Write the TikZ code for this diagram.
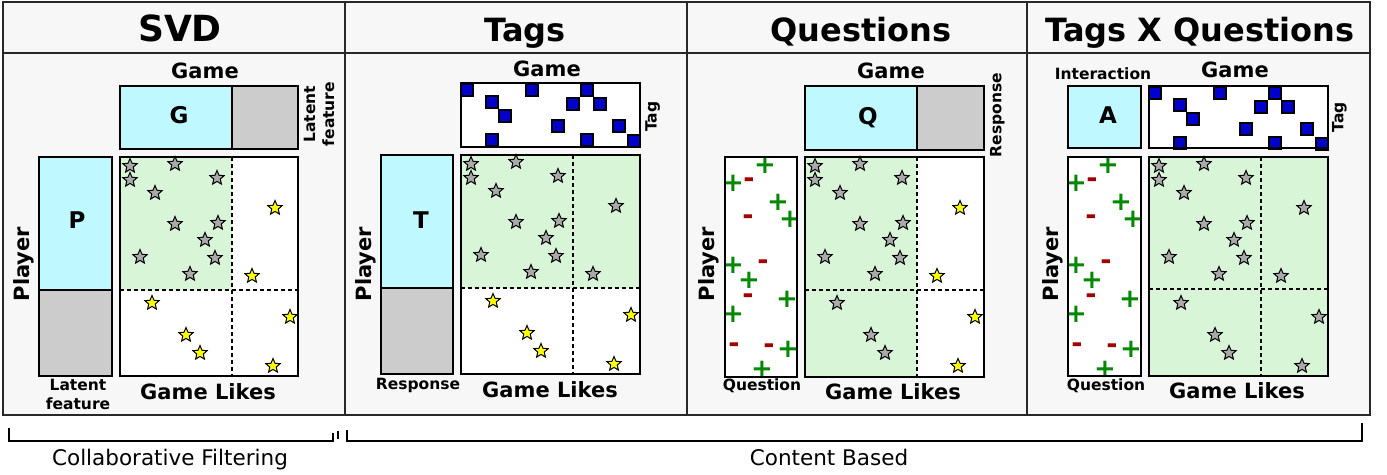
\documentclass[tikz,border=0pt]{standalone}
\usepackage{fontspec}
\setmainfont{DejaVu Sans}
\usetikzlibrary{shapes.geometric}
\definecolor{panelbg}{RGB}{247,247,247}
\definecolor{framegray}{RGB}{40,40,40}
\definecolor{cyanbox}{RGB}{191,248,255}
\definecolor{graybox}{RGB}{204,204,204}
\definecolor{greenbg}{RGB}{216,245,216}
\definecolor{stargray}{RGB}{170,170,170}
\definecolor{staryellow}{RGB}{255,255,0}
\definecolor{tagblue}{RGB}{0,0,204}
\definecolor{plusgreen}{RGB}{0,136,0}
\definecolor{minusred}{RGB}{160,0,0}
\tikzset{
 every node/.style={inner sep=0pt, outer sep=0pt},
 ttl/.style={font=\bfseries\fontsize{32}{32}\selectfont, anchor=base},
 axl/.style={font=\bfseries\fontsize{21}{21}\selectfont, anchor=base},
 sml/.style={font=\bfseries\fontsize{15.5}{19}\selectfont, anchor=base, align=center},
 boxlet/.style={font=\bfseries\fontsize{23}{23}\selectfont, anchor=base},
 boxline/.style={draw=black, line width=2pt},
 dashsep/.style={dash pattern=on 4pt off 3pt, line width=1.4pt},
 starmk/.style={star, star points=5, star point ratio=2.2, minimum size=15pt, draw=black, line width=1pt},
 sq/.style={minimum size=12pt, fill=tagblue, draw=black, line width=1.2pt},
 pl/.style={font=\bfseries\fontsize{26}{26}\selectfont, text=plusgreen},
 mi/.style={font=\bfseries\fontsize{27}{27}\selectfont, text=minusred},
 bot/.style={font=\fontsize{21.5}{21.5}\selectfont, anchor=base},
 brk/.style={line width=1.8pt},
 frm/.style={line width=1.5pt, draw=framegray},
}
\newcommand{\drawstars}[4]{%
 \foreach \sx/\sy [count=\i] in {10/9,55/7,10/23,97/21,35/36,155/51,55/67,98/66,85/83,20/100,95/101,70/117,132/119,32/146,170/160,66/178,80/196,153/209}{%
   \pgfmathtruncatemacro\isg{#4}%
   \ifnum\isg=1 \def\sc{stargray}\else\def\sc{staryellow}\fi
   \node[starmk, fill=\sc] (#3\i) at ({#1+\sx},{#2+\sy}) {};
 }}
\newcommand{\tagsquares}[3]{%
 \foreach \qx/\qy [count=\i] in {6/7,71/7,126/7,31/19,112/21,139/21,44/33,97/43,158/43,31/57,126/57,173/58}{%
   \node[sq] (#3\i) at ({#1+\qx},{#2+\qy}) {};
 }}
\newcommand{\signs}[3]{%
 \foreach \gx/\gy/\gs [count=\i] in {40/8/p,8/26/p,24/26/m,53/45/p,23/63/m,65/62/p,8/108/p,38/108/m,24/123/p,23/142/m,62/142/p,8/157/p,9/191/m,44/192/m,63/192/p,37/212/p}{%
   \if p\gs
     \node[pl] (#3\i) at ({#1+\gx},{#2+\gy}) {+};
   \else
     \node[mi] (#3\i) at ({#1+\gx},{#2+\gy}) {-};
   \fi
 }}
\begin{document}
\begin{tikzpicture}[x=1pt,y=-1pt]
\useasboundingbox (0,0) rectangle (1387,474);
% frame
\fill[panelbg] (3,2) rectangle (1370,415);
\draw[frm] (3,53) -- (1370,53);
\draw[frm] (345,2) -- (345,415);
\draw[frm] (687,2) -- (687,415);
\draw[frm] (1027,2) -- (1027,415);
\draw[frm] (3,2) rectangle (1370,415);
% titles
\node[ttl, font=\bfseries\fontsize{36}{36}\selectfont] (t1) at (180,41.5) {SVD};
\node[ttl] (t2) at (525,41.5) {Tags};
\node[ttl] (t3) at (861,41.5) {Questions};
\node[ttl] (t4) at (1200,41.5) {Tags X Questions};

% ===== Panel 1: SVD =====
\fill[cyanbox] (120,86) rectangle (232,149);
\fill[graybox] (232,86) rectangle (298,149);
\draw[boxline] (120,86) rectangle (298,149);
\draw[boxline] (232,86) -- (232,149);
\node[boxlet] (g1) at (179,123.3) {G};
\fill[cyanbox] (39,157) rectangle (112,290);
\fill[graybox] (39,290) rectangle (112,376);
\draw[boxline] (39,157) rectangle (112,376);
\draw[boxline] (39,290) -- (112,290);
\node[boxlet] (p1) at (77,228.3) {P};
\fill[white] (120,157) rectangle (298,376);
\fill[greenbg] (120,157) rectangle (232,290);
\draw[dashsep] (232,157) -- (232,376);
\draw[dashsep] (120,290) -- (298,290);
\drawstars{120}{157}{sa}{(\sx<112)*(\sy<133)}
\draw[boxline] (120,157) rectangle (298,376);
\node[axl] (game1) at (205,78) {Game};
\node[axl] (likes1) at (208,399) {Game Likes};
\node[axl, rotate=90] (player1) at (29,264) {Player};
\node[sml, rotate=90, anchor=center] (lf1) at (319,114) {Latent\\feature};
\node[sml, anchor=base] (lf2) at (78,409.5) {Latent\\feature};

% ===== Panel 2: Tags =====
\fill[white] (461,83) rectangle (640,147);
\tagsquares{461}{83}{qa}
\draw[boxline] (461,83) rectangle (640,147);
\fill[cyanbox] (381,155) rectangle (453,288);
\fill[graybox] (381,288) rectangle (453,374);
\draw[boxline] (381,155) rectangle (453,374);
\draw[boxline] (381,288) -- (453,288);
\node[boxlet] (p2) at (421,228.3) {T};
\fill[white] (461,155) rectangle (640,374);
\fill[greenbg] (461,155) rectangle (640,288);
\draw[dashsep] (573,155) -- (573,374);
\draw[dashsep] (461,288) -- (640,288);
\drawstars{461}{155}{sb}{(\sy<133)}
\draw[boxline] (461,155) rectangle (640,374);
\node[axl] (game2) at (547,76) {Game};
\node[axl] (likes2) at (550,397) {Game Likes};
\node[axl, rotate=90] (player2) at (371.7,264) {Player};
\node[sml, rotate=90] (tag2) at (656.6,116.7) {Tag};
\node[sml] (resp2) at (418,389) {Response};

% ===== Panel 3: Questions =====
\fill[cyanbox] (805,86) rectangle (917,150);
\fill[graybox] (917,86) rectangle (984,150);
\draw[boxline] (805,86) rectangle (984,150);
\draw[boxline] (917,86) -- (917,150);
\node[boxlet] (q3) at (868,124) {Q};
\fill[white] (725,157) rectangle (797,377);
\signs{725}{157}{ga}
\draw[boxline] (725,157) rectangle (797,377);
\fill[white] (805,157) rectangle (984,377);
\fill[greenbg] (805,157) rectangle (917,377);
\draw[dashsep] (917,157) -- (917,377);
\draw[dashsep] (805,290) -- (984,290);
\drawstars{805}{157}{sc}{(\sx<112)}
\draw[boxline] (805,157) rectangle (984,377);
\node[axl] (game3) at (891,78) {Game};
\node[axl] (likes3) at (893,399.3) {Game Likes};
\node[axl, rotate=90] (player3) at (714.7,264) {Player};
\node[sml, rotate=90] (resp3) at (1001.4,115) {Response};
\node[sml] (ques3) at (762,390.7) {Question};

% ===== Panel 4: Tags X Questions =====
\fill[cyanbox] (1068,86) rectangle (1141,148);
\draw[boxline] (1068,86) rectangle (1141,148);
\node[boxlet] (a4) at (1108,123.3) {A};
\fill[white] (1149,86) rectangle (1328,148);
\tagsquares{1149}{86}{qb}
\draw[boxline] (1149,86) rectangle (1328,148);
\fill[white] (1068,157) rectangle (1141,376);
\signs{1068}{157}{gb}
\draw[boxline] (1068,157) rectangle (1141,376);
\fill[greenbg] (1149,157) rectangle (1328,376);
\draw[dashsep] (1261,157) -- (1261,376);
\draw[dashsep] (1149,289) -- (1328,289);
\drawstars{1149}{157}{sd}{1}
\draw[boxline] (1149,157) rectangle (1328,376);
\node[sml] (inter4) at (1103,79) {Interaction};
\node[axl] (game4) at (1235,77.7) {Game};
\node[axl] (likes4) at (1237,398) {Game Likes};
\node[axl, rotate=90] (player4) at (1058.3,264) {Player};
\node[sml, rotate=90] (tag4) at (1343.4,117) {Tag};
\node[sml] (ques4) at (1106,390) {Question};

% ===== brackets =====
\draw[brk] (9,428) -- (9,441) -- (333,441) -- (333,433);
\draw[brk] (338,431) -- (338,439);
\draw[brk] (347,430) -- (347,441) -- (1362,441) -- (1362,423);
\node[bot] (cf) at (170,465) {Collaborative Filtering};
\node[bot] (cb) at (829,465) {Content Based};
\end{tikzpicture}
\end{document}
